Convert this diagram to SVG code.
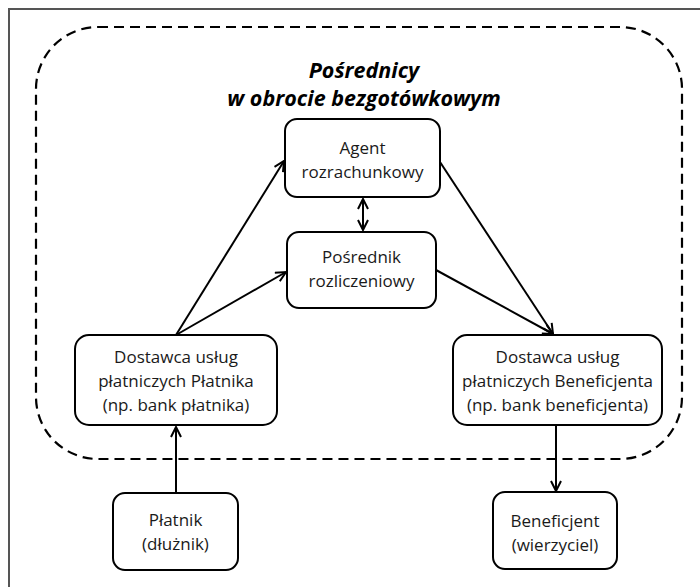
<svg xmlns="http://www.w3.org/2000/svg" width="700" height="587" viewBox="0 0 700 587">
  <style>
    .frame { fill: none; stroke: #555; stroke-width: 2; }
    .zone { fill: none; stroke: #000; stroke-width: 2.2; stroke-dasharray: 10 6; }
    .box { fill: #fff; stroke: #000; stroke-width: 2; }
    .lbl { font-family: "Open Sans", "Liberation Sans", sans-serif; font-size: 17px; fill: #1a1a1a; text-anchor: middle; }
    .title { font-family: "Open Sans", "Liberation Sans", sans-serif; font-size: 21.5px; font-weight: bold; font-style: italic; fill: #000; text-anchor: middle; }
    .conn { fill: none; stroke: #000; stroke-width: 2; }
  </style>
  <defs>
    <marker id="arrow" viewBox="0 0 12 12" refX="11" refY="6" markerWidth="12" markerHeight="12" markerUnits="userSpaceOnUse" orient="auto-start-reverse">
      <path d="M1,1 L11,6 L1,11" fill="none" stroke="#000" stroke-width="2"/>
    </marker>
  </defs>

  <rect width="700" height="587" fill="#fff"/>
  <!-- outer frame (top and left edges) -->
  <path class="frame" d="M9,587 L9,9 L700,9"/>

  <!-- dashed boundary of the intermediaries zone -->
  <rect class="zone" x="36" y="27" width="646" height="432" rx="62" ry="62"/>

  <g id="title">
    <text class="title" x="364" y="78">Pośrednicy</text>
    <text class="title" x="364" y="106">w obrocie bezgotówkowym</text>
  </g>

  <g id="connectors">
    <line class="conn" x1="176" y1="493" x2="176" y2="427" marker-end="url(#arrow)"/>
    <line class="conn" x1="176" y1="335" x2="284" y2="161" marker-end="url(#arrow)"/>
    <line class="conn" x1="176" y1="335" x2="286" y2="272" marker-end="url(#arrow)"/>
    <line class="conn" x1="363" y1="199" x2="363" y2="230" marker-start="url(#arrow)" marker-end="url(#arrow)"/>
    <line class="conn" x1="440" y1="162" x2="553" y2="334" marker-end="url(#arrow)"/>
    <line class="conn" x1="436" y1="270" x2="553" y2="334" marker-end="url(#arrow)"/>
    <line class="conn" x1="556" y1="425" x2="556" y2="491" marker-end="url(#arrow)"/>
  </g>

  <g id="agent">
    <rect class="box" x="285" y="119" width="155" height="78" rx="12"/>
    <text class="lbl" x="362.5" y="154">Agent</text>
    <text class="lbl" x="362.5" y="178">rozrachunkowy</text>
  </g>

  <g id="posrednik">
    <rect class="box" x="287" y="232" width="149" height="76" rx="12"/>
    <text class="lbl" x="361.5" y="263">Pośrednik</text>
    <text class="lbl" x="361.5" y="287">rozliczeniowy</text>
  </g>

  <g id="dostawca-platnika">
    <rect class="box" x="75" y="335" width="202" height="90" rx="14"/>
    <text class="lbl" x="176" y="363">Dostawca usług</text>
    <text class="lbl" x="176" y="387">płatniczych Płatnika</text>
    <text class="lbl" x="176" y="411">(np. bank płatnika)</text>
  </g>

  <g id="dostawca-beneficjenta">
    <rect class="box" x="453" y="335" width="209" height="90" rx="14"/>
    <text class="lbl" x="557.5" y="363">Dostawca usług</text>
    <text class="lbl" x="557.5" y="387">płatniczych Beneficjenta</text>
    <text class="lbl" x="557.5" y="411">(np. bank beneficjenta)</text>
  </g>

  <g id="platnik">
    <rect class="box" x="113" y="493" width="125" height="77" rx="12"/>
    <text class="lbl" x="175.5" y="526">Płatnik</text>
    <text class="lbl" x="175.5" y="550">(dłużnik)</text>
  </g>

  <g id="beneficjent">
    <rect class="box" x="493" y="492" width="124" height="77" rx="12"/>
    <text class="lbl" x="555" y="527">Beneficjent</text>
    <text class="lbl" x="555" y="551">(wierzyciel)</text>
  </g>
</svg>
